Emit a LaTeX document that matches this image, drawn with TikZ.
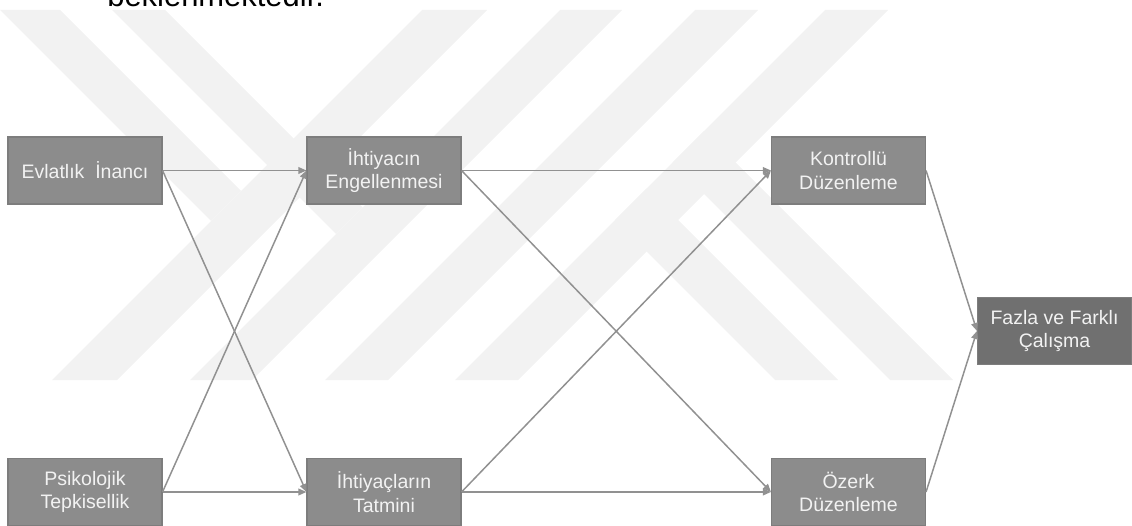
\documentclass[tikz,border=0pt]{standalone}
\usepackage{fontspec}
\setmainfont{Liberation Sans}
\usetikzlibrary{arrows.meta}
\definecolor{boxfill}{RGB}{140,140,140}
\definecolor{boxline}{RGB}{125,125,125}
\definecolor{darkfill}{RGB}{112,112,112}
\definecolor{boxtext}{RGB}{242,242,242}
\definecolor{linkgray}{RGB}{145,145,145}
\definecolor{markgray}{RGB}{242,242,242}

\begin{document}
\begin{tikzpicture}[
    box/.style={rectangle,draw=boxline,fill=boxfill,text=boxtext,line width=0.6pt,
      minimum width=3.08cm,minimum height=1.34cm,inner sep=0pt,align=center,
      font=\fontsize{11.1}{13.3}\selectfont},
    darkbox/.style={box,fill=darkfill},
    link/.style={draw=linkgray,line width=0.85pt,-{Triangle[length=4.6pt,width=3.8pt]}}]
    \useasboundingbox (0,0) rectangle (22.64,10.52);
    \begin{scope}[x=0.02cm,y=-0.02cm,yshift=10.52cm]
      \fill[markgray] (422,10) -- (487,10) -- (117,380) -- (52,380) -- cycle;
      \fill[markgray] (560,10) -- (622,10) -- (252,380) -- (190,380) -- cycle;
      \fill[markgray] (695,10) -- (758,10) -- (388,380) -- (325,380) -- cycle;
      \fill[markgray] (825,10) -- (888,10) -- (518,380) -- (455,380) -- cycle;
      \fill[markgray] (0,10) -- (60,10) -- (241,191) -- (211,221) -- cycle;
      \fill[markgray] (112,10) -- (165,10) -- (362.5,207.5) -- (336,234) -- cycle;
      \fill[markgray] (646.5,188.5) -- (838,380) -- (775,380) -- (615,220) -- cycle;
      \fill[markgray] (704,131) -- (953,380) -- (890,380) -- (672.5,162.5) -- cycle;
    \end{scope}
    \node (tx) at (2.14,10.39) [anchor=base west,inner sep=0pt,font=\fontsize{17.6}{21}\selectfont] {beklenmektedir.};
    \node (ei) at (1.70,7.11) [box] {Evlatlık\ \ İnancı};
    \node (pt) at (1.70,0.68) [box] {Psikolojik\\Tepkisellik};
    \node (ie) at (7.68,7.11) [box] {İhtiyacın\\Engellenmesi};
    \node (it) at (7.68,0.68) [box] {İhtiyaçların\\Tatmini};
    \node (kd) at (16.97,7.11) [box] {Kontrollü\\Düzenleme};
    \node (od) at (16.97,0.68) [box] {Özerk\\Düzenleme};
    \node (fc) at (21.09,3.90) [darkbox] {Fazla\ ve\ Farklı\\Çalışma};
    \draw[link] (ei.east) -- (ie.west);
    \draw[link] (ei.east) -- (it.west);
    \draw[link] (pt.east) -- (ie.west);
    \draw[link] (pt.east) -- (it.west);
    \draw[link] (ie.east) -- (kd.west);
    \draw[link] (ie.east) -- (od.west);
    \draw[link] (it.east) -- (kd.west);
    \draw[link] (it.east) -- (od.west);
    \draw[link] (kd.east) -- (fc.west);
    \draw[link] (od.east) -- (fc.west);
  \end{tikzpicture}
\end{document}
